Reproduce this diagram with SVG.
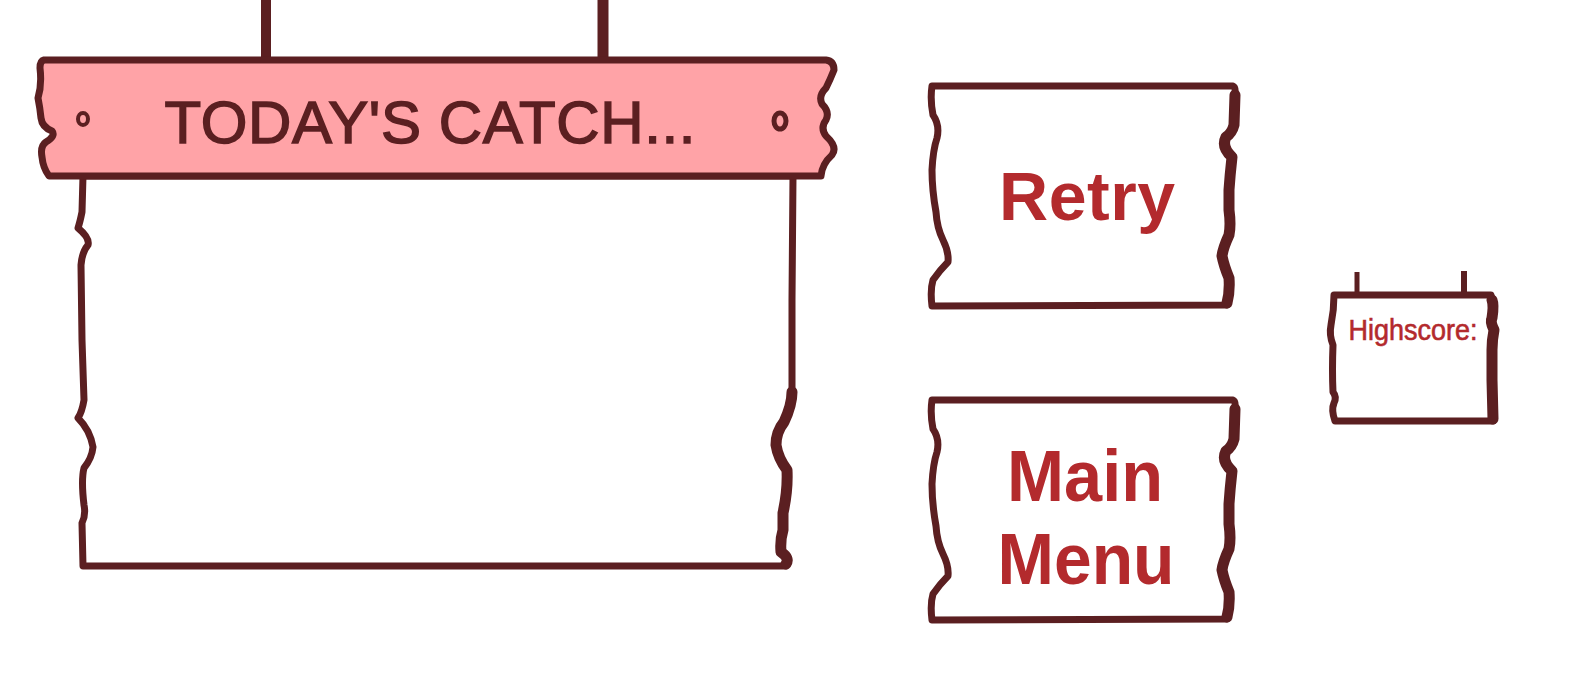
<svg xmlns="http://www.w3.org/2000/svg" xmlns:xlink="http://www.w3.org/1999/xlink" width="1581" height="682" viewBox="0 0 1581 682">
<style>
.thick{fill:none;stroke:#5B1F21;stroke-width:11;stroke-linejoin:round;stroke-linecap:round}
.rope{stroke:#5B1F21;stroke-linecap:butt}
.board{fill:#FFFFFF;stroke:#5B1F21;stroke-width:7;stroke-linejoin:round}
.btn{font-family:"Liberation Sans",Arial,sans-serif;font-weight:bold;fill:#B32A2D;text-anchor:middle}
</style>
<defs>
<path id="btnShape" d="M932,86 L1233,86 Q1236,87 1235,95 L1234,125 Q1232,133 1226,137 Q1221,147 1232,157 Q1230,175 1229,190 L1229,210 Q1231,225 1229,235 Q1223,248 1222,256 Q1224,266 1229,278 Q1230,292 1227,305 L932,306 Q930,290 933,280 Q940,270 948,262 Q949,252 943,240 Q937,228 936,212 Q932,190 932,170 Q933,150 937,138 Q940,125 933,115 Q930,100 932,86 Z"/>
<path id="btnRight" d="M1235,95 L1234,125 Q1232,133 1226,137 Q1221,147 1232,157 Q1230,175 1229,190 L1229,210 Q1231,225 1229,235 Q1223,248 1222,256 Q1224,266 1229,278 Q1230,292 1227,303"/>
</defs>

<g id="ropes">
<line class="rope" x1="266" y1="-2" x2="266" y2="60" stroke-width="10"/>
<line class="rope" x1="603" y1="-2" x2="603" y2="60" stroke-width="11"/>
<line class="rope" x1="1357" y1="272" x2="1357" y2="296" stroke-width="5"/>
<line class="rope" x1="1464" y1="271" x2="1464" y2="296" stroke-width="6"/>
</g>

<g id="catch-panel">
<path class="board" d="M83,176 L82,212 Q80,222 78,228 Q90,238 88,245 Q82,252 81,265 L82,340 L84,400 Q82,412 78,418 Q90,430 93,447 Q92,458 84,468 Q81,480 84,505 Q86,515 82,523 L83,566 L786,566 Q790,558 781,552 Q780,540 783,530 L783,513 Q788,490 787,470 Q778,458 776,445 Q776,432 784,422 Q792,405 792,390 L792,300 L793,176 Z"/>
<path class="thick" d="M792,392 Q792,405 784,422 Q776,432 776,445 Q778,458 787,470 Q788,490 783,513 L783,530 Q780,540 781,552 Q790,558 786,564"/>
</g>

<g id="banner">
<path d="M44,60 L826,60 Q834,61 834,70 Q830,80 826,88 Q818,96 822,104 Q830,112 826,120 Q820,128 826,136 Q838,147 832,155 Q822,164 821,176 L49,176 Q43,168 42,157 Q40,146 46,142 Q56,136 52,131 Q42,127 41,118 Q40,108 38,98 Q42,85 40,68 Q40,61 44,60 Z" fill="#FFA3A7" stroke="#5B1F21" stroke-width="7" stroke-linejoin="round"/>
<ellipse cx="83" cy="119" rx="5" ry="6" fill="none" stroke="#5B1F21" stroke-width="4"/>
<ellipse cx="780" cy="121" rx="6" ry="8" fill="none" stroke="#5B1F21" stroke-width="5"/>
<text x="430" y="143" font-family="'Liberation Sans',Arial,sans-serif" font-size="60" fill="#5B1F21" stroke="#5B1F21" stroke-width="1.5" text-anchor="middle" textLength="531" lengthAdjust="spacing">TODAY'S CATCH...</text>
</g>

<g id="retry">
<use xlink:href="#btnShape" href="#btnShape" class="board"/>
<use xlink:href="#btnRight" href="#btnRight" class="thick"/>
<text class="btn" x="1087" y="220" font-size="68" textLength="176" lengthAdjust="spacing">Retry</text>
</g>

<g id="main-menu">
<use xlink:href="#btnShape" href="#btnShape" class="board" transform="translate(0,314)"/>
<use xlink:href="#btnRight" href="#btnRight" class="thick" transform="translate(0,314)"/>
<text class="btn" x="1085" y="501" font-size="72" textLength="156" lengthAdjust="spacingAndGlyphs">Main</text>
<text class="btn" x="1086" y="584" font-size="72" textLength="177" lengthAdjust="spacingAndGlyphs">Menu</text>
</g>

<g id="highscore">
<path class="board" stroke-width="5.5" d="M1334,295 L1491,295 Q1494,305 1492,318 Q1490,322 1494,330 Q1492,340 1492,350 L1492,380 L1493,421 L1335,421 Q1331,410 1334,403 Q1337,397 1333,392 Q1332,370 1333,345 Q1329,335 1331,325 Q1334,310 1334,295 Z"/>
<path class="thick" stroke-width="7" d="M1492,300 Q1494,305 1492,318 Q1490,322 1494,330 Q1492,340 1492,350 L1492,380 L1493,419"/>
<text x="1413" y="340" font-family="'Liberation Sans',Arial,sans-serif" font-size="29" fill="#B32A2D" stroke="#B32A2D" stroke-width="0.6" text-anchor="middle" textLength="129" lengthAdjust="spacingAndGlyphs">Highscore:</text>
</g>
</svg>
